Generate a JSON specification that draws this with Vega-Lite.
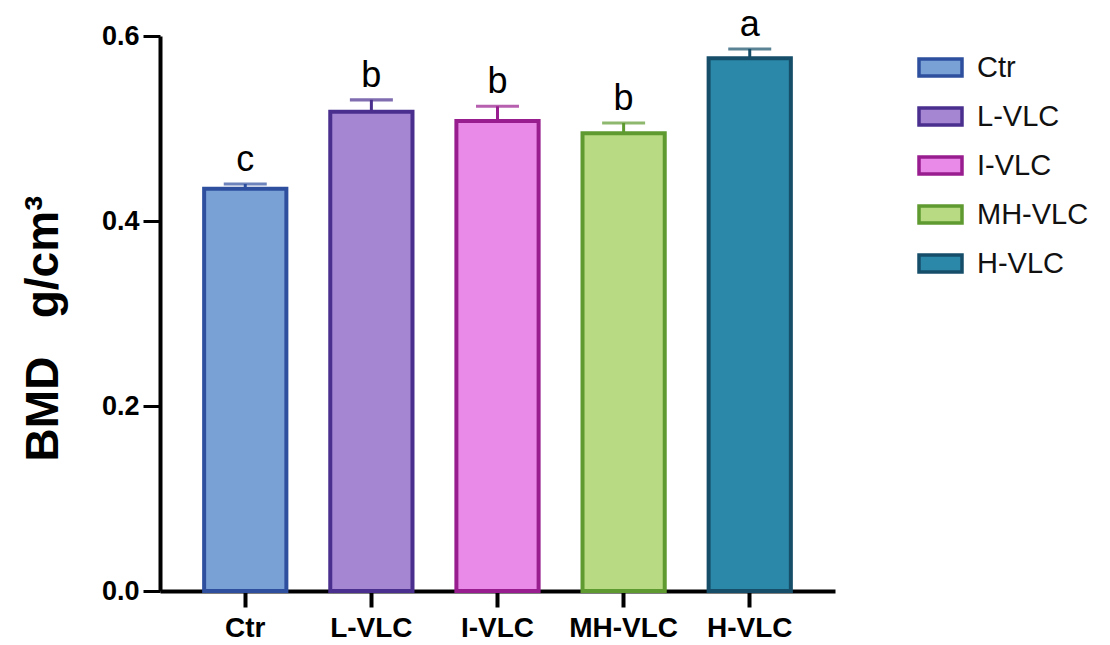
{
  "$schema": "https://vega.github.io/schema/vega-lite/v6.json",
  "width": 675,
  "height": 555,
  "autosize": {"type": "none"},
  "padding": {"left": 160, "top": 36, "right": 275, "bottom": 54},
  "background": "white",
  "config": {
    "font": "Liberation Sans",
    "view": {"stroke": null},
    "axis": {"grid": false, "domainColor": "black", "tickColor": "black", "labelColor": "black", "titleColor": "black"},
    "axisY": {
      "labelFontSize": 27, "labelFontWeight": "bold", "labelPadding": 4,
      "domainWidth": 4, "tickWidth": 3, "tickSize": 17,
      "titleFontSize": 46, "titleFontWeight": "bold", "titlePadding": 34, "titleY": 292
    },
    "axisX": {
      "labelFontSize": 28, "labelFontWeight": "bold", "labelPadding": 7,
      "domainWidth": 4, "tickWidth": 4, "tickSize": 16, "labelAngle": 0
    }
  },
  "data": {
    "values": [
      {"group": "Ctr", "mean": 0.435, "upper": 0.440, "sig": "c"},
      {"group": "L-VLC", "mean": 0.518, "upper": 0.531, "sig": "b"},
      {"group": "I-VLC", "mean": 0.508, "upper": 0.524, "sig": "b"},
      {"group": "MH-VLC", "mean": 0.495, "upper": 0.506, "sig": "b"},
      {"group": "H-VLC", "mean": 0.576, "upper": 0.586, "sig": "a"}
    ]
  },
  "encoding": {
    "x": {
      "field": "group", "type": "nominal", "sort": null,
      "scale": {"paddingInner": 0.348, "paddingOuter": 0.35},
      "axis": {"title": null}
    }
  },
  "layer": [
    {
      "mark": {"type": "rule", "strokeWidth": 3},
      "encoding": {
        "y": {
          "field": "mean", "type": "quantitative",
          "scale": {"domain": [0, 0.6], "nice": false},
          "axis": {"title": "BMD\u00a0\u00a0\u00a0g/cm³", "values": [0, 0.2, 0.4, 0.6], "format": ".1f"}
        },
        "y2": {"field": "upper"},
        "stroke": {"field": "group", "type": "nominal", "sort": null}
      }
    },
    {
      "mark": {"type": "tick", "orient": "horizontal", "size": 40, "thickness": 0.1, "filled": false, "strokeWidth": 3},
      "encoding": {
        "y": {"field": "upper", "type": "quantitative"},
        "stroke": {"field": "group", "type": "nominal", "sort": null}
      }
    },
    {
      "mark": {"type": "bar", "strokeWidth": 4, "strokeJoin": "miter", "fillOpacity": 1, "opacity": 1},
      "encoding": {
        "y": {"field": "mean", "type": "quantitative"},
        "fill": {
          "field": "group", "type": "nominal", "sort": null,
          "scale": {"domain": ["Ctr", "L-VLC", "I-VLC", "MH-VLC", "H-VLC"], "range": ["#7aa1d6", "#a486d3", "#e98ae8", "#b8da82", "#2b88a8"]},
          "legend": {
            "title": null, "orient": "none", "legendX": 757, "legendY": 8,
            "symbolType": "M-1,-0.4H1V0.4H-1Z", "symbolSize": 1849, "symbolStrokeWidth": 3.5, "symbolOpacity": 1,
            "labelFontSize": 29, "labelOffset": 13, "rowPadding": 9, "labelColor": "#111",
            "encode": {"symbols": {"update": {"fillOpacity": {"value": 1}, "opacity": {"value": 1}, "strokeOpacity": {"value": 1}}}}
          }
        },
        "stroke": {
          "field": "group", "type": "nominal", "sort": null,
          "scale": {"domain": ["Ctr", "L-VLC", "I-VLC", "MH-VLC", "H-VLC"], "range": ["#2d4f9e", "#4a2f8e", "#981d8e", "#5e9a30", "#164e6a"]}
        }
      }
    },
    {
      "mark": {"type": "text", "fontSize": 36, "baseline": "alphabetic", "dy": -13, "color": "black"},
      "encoding": {
        "y": {"field": "upper", "type": "quantitative"},
        "text": {"field": "sig"}
      }
    }
  ]
}
